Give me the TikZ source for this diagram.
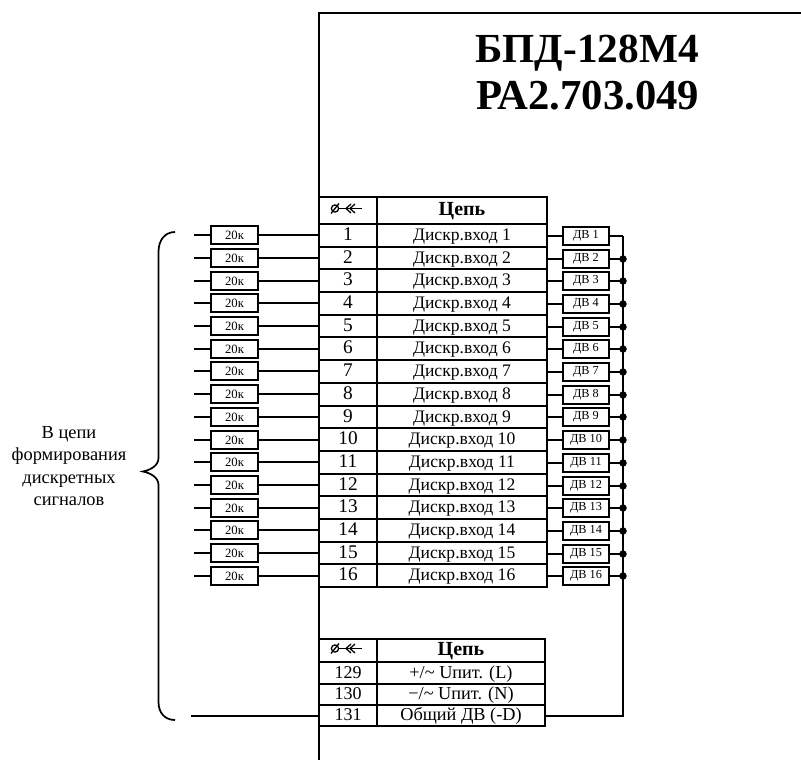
\documentclass[tikz,border=0pt]{standalone}
\usepackage{fontspec}
\setmainfont{Liberation Serif}
\newcommand{\fs}[1]{\fontsize{#1}{#1}\selectfont}
\newcommand{\pinsym}[1]{%
  \draw[thin line] ($(#1)+(-13,-2)$) circle (3.6);
  \draw[thin line] ($(#1)+(-17,3)$) -- ($(#1)+(-9,-7)$);
  \draw[thin line] ($(#1)+(-10,-2)$) -- ($(#1)+(14,-2)$);
  \draw[thin line] ($(#1)+(3,-6.5)$) -- ($(#1)+(-2,-2)$) -- ($(#1)+(3,2.5)$);
  \draw[thin line] ($(#1)+(7,-6.5)$) -- ($(#1)+(2,-2)$) -- ($(#1)+(7,2.5)$);
}
\usetikzlibrary{calc}
\def\px{0.75pt}
\tikzset{
  x=0.75pt,y=-0.75pt,
  wire/.style={line width=1.3pt,black},
  thin line/.style={line width=0.95pt,black},
  cell/.style={draw,line width=1.3pt,inner sep=0pt,minimum height=#1*\px,text height=0.9em,text depth=0.12em},
  numcell/.style={cell=#1,minimum width=58*\px,font=\fs{14.5}},
  textcell/.style={cell=#1,minimum width=170*\px,font=\fs{13.2}},
  numcellb/.style={cell=#1,minimum width=58*\px,font=\fs{13.5}},
  textcellb/.style={cell=#1,minimum width=168*\px,font=\fs{13.7}},
  res/.style={draw,line width=1.3pt,inner sep=0pt,minimum width=47*\px,minimum height=18*\px,font=\fs{9.5}},
  dv/.style={draw,line width=1.3pt,inner sep=0pt,minimum width=46*\px,minimum height=18*\px,font=\fs{9.2}},
  dotj/.style={circle,fill=black,inner sep=0pt,minimum size=7.5*\px},
  headtxt/.style={font=\bfseries\fs{15}},
}
\begin{document}
\begin{tikzpicture}
\useasboundingbox (0,0) rectangle (801,760);
% outer frame
\coordinate (ftop) at (801,13);
\coordinate (fcorner) at (319,13);
\coordinate (fbot) at (319,760);
\draw[wire] (ftop) -- (fcorner) -- (fbot);
% title
\node[font=\bfseries\fs{31},anchor=base] (title1) at (587,62) {БПД-128М4};
\node[font=\bfseries\fs{32},anchor=base] (title2) at (588,109) {РА2.703.049};
% table 1 header
\node[numcell=27] (h1) at (348,210.5) {};
\node[textcell=27,headtxt] (h2) at (462,210.5) {Цепь};
\pinsym{h1}
% rows
\foreach \i in {1,...,16}{
  \pgfmathsetmacro{\rt}{round(224+(\i-1)*22.7)}
  \pgfmathsetmacro{\rb}{round(224+\i*22.7)}
  \pgfmathsetmacro{\rh}{\rb-\rt}
  \pgfmathsetmacro{\ry}{(\rb+\rt)/2}
  \pgfmathsetmacro{\wy}{round(235.3+(\i-1)*22.7)}
  \pgfmathsetmacro{\dy}{round(235.9+(\i-1)*22.7)}
  \node[numcell=\rh] (n\i) at (348,\ry) {\i};
  \node[textcell=\rh] (c\i) at (462,\ry) {Дискр.вход \i};
  \node[res] (r\i) at (234.5,\wy) {20к};
  \node[dv] (d\i) at (586,\dy) {ДВ \i};
  \coordinate (s\i) at (194,\wy);
  \coordinate (b\i) at (623,\dy);
  \draw[wire] (s\i) -- (r\i.west);
  \draw[wire] (r\i.east) -- (n\i.west |- r\i.east);
  \draw[wire] (c\i.east |- d\i.west) -- (d\i.west);
  \draw[wire] (d\i.east) -- (b\i);
  \ifnum\i>1 \node[dotj] at (b\i) {}; \fi
}
% table 2
\node[numcellb=23] (h3) at (348,650.5) {};
\node[textcellb=23,headtxt] (h4) at (461,650.5) {Цепь};
\pinsym{h3}
\node[numcellb=22] (p129) at (348,673) {129};
\node[textcellb=22] (t129) at (461,673) {+/\textasciitilde{} Uпит. (L)};
\node[numcellb=21] (p130) at (348,694.5) {130};
\node[textcellb=21] (t130) at (461,694.5) {−/\textasciitilde{} Uпит. (N)};
\node[numcellb=21] (p131) at (348,715.5) {131};
\node[textcellb=21] (t131) at (461,715.5) {Общий ДВ (-D)};
% bus
\coordinate (bend) at (623,716);
\draw[wire] (b1) -- (bend) -- (t131.east |- bend);
\coordinate (s131) at (191,716);
\draw[wire] (s131) -- (p131.west |- s131);
% brace
\coordinate (bt) at (175,232);
\coordinate (bb) at (175,720);
\coordinate (bm) at (143,471.5);
\draw[wire] (bt) .. controls (165,232) and (158.5,240) .. (158.5,252)
  -- (158.5,458) .. controls (158.5,466) and (150,470) .. (bm)
  .. controls (150,473) and (158.5,477) .. (158.5,485)
  -- (158.5,702) .. controls (158.5,713) and (165,720) .. (bb);
% label
\node[font=\fontsize{13.8}{16.9}\selectfont,align=center] (lbl) at (69,466) {В цепи\\формирования\\дискретных\\сигналов};
\end{tikzpicture}
\end{document}
